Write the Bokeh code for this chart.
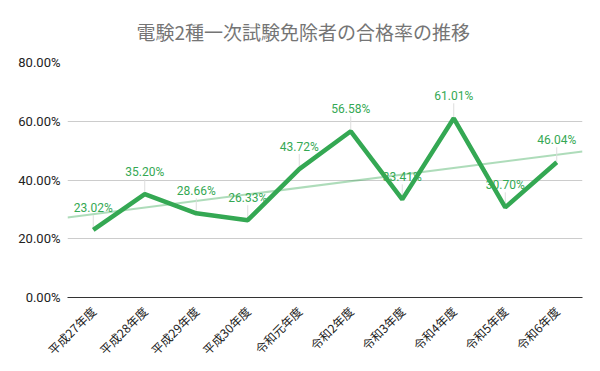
import numpy as np
from bokeh.plotting import figure
from bokeh.core.properties import value
from bokeh.models import FixedTicker, PrintfTickFormatter, ColumnDataSource, LabelSet, Range1d
from bokeh.embed import file_html
from bokeh.resources import INLINE

title_text = "電験2種一次試験免除者の合格率の推移"
categories = ["平成27年度", "平成28年度", "平成29年度", "平成30年度", "令和元年度",
              "令和2年度", "令和3年度", "令和4年度", "令和5年度", "令和6年度"]
rates = [23.02, 35.20, 28.66, 26.33, 43.72, 56.58, 33.41, 61.01, 30.70, 46.04]
y_ticks = [0, 20, 40, 60, 80]

GREEN = "#34a853"

xs = list(range(len(categories)))
p = figure(frame_width=515, frame_height=235, output_backend="svg", toolbar_location=None,
           x_range=Range1d(-0.5, len(categories) - 0.5), y_range=Range1d(0, 80),
           min_border_left=67, min_border_right=10, min_border_top=62, min_border_bottom=66)
p.outline_line_color = None

p.title.text = title_text
p.title.align = "left"
p.title.vertical_align = "top"
p.title.offset = 69
p.title.standoff = 31
p.title.text_font = "Noto Sans CJK JP"
p.title.text_font_size = "19px"
p.title.text_font_style = "normal"
p.title.text_color = "#757575"

# trendline (least squares over data)
k, b = np.polyfit(xs, rates, 1)
tx = [-0.5, len(categories) - 0.5]
p.line(tx, [k * t + b for t in tx], line_color=GREEN, line_alpha=0.4, line_width=2)

# leader lines
lead = 5.1
p.segment(xs, rates, xs, [r + lead for r in rates], line_color="#dddddd", line_width=1)

p.line(xs, rates, line_color=GREEN, line_width=4.5)

src = ColumnDataSource(dict(x=xs, y=[r + lead for r in rates],
                            t=["%.2f%%" % r for r in rates]))
p.add_layout(LabelSet(x="x", y="y", text="t", source=src, text_align="center",
                      text_baseline="bottom", text_font=value("Roboto"),
                      text_font_size=value("12px"), text_color=GREEN))

p.xaxis.ticker = FixedTicker(ticks=xs)
p.xaxis.major_label_overrides = {i: c for i, c in enumerate(categories)}
p.xaxis.major_label_orientation = np.pi / 4
p.xaxis.major_label_text_font = "Noto Sans CJK JP"
p.xaxis.major_label_text_font_size = "12px"
p.xaxis.major_label_text_color = "#222222"
p.xaxis.major_tick_line_color = None
p.xaxis.minor_tick_line_color = None
p.xaxis.axis_line_color = "#333333"
p.xaxis.axis_line_width = 1.2
p.xaxis.major_label_standoff = 5

p.yaxis.ticker = FixedTicker(ticks=y_ticks)
p.yaxis.formatter = PrintfTickFormatter(format="%.2f%%")
p.yaxis.major_label_text_font = "Roboto"
p.yaxis.major_label_text_font_size = "13px"
p.yaxis.major_label_text_color = "#222222"
p.yaxis.axis_line_color = None
p.yaxis.major_tick_line_color = None
p.yaxis.minor_tick_line_color = None
p.yaxis.major_tick_out = 0
p.yaxis.major_tick_in = 0
p.yaxis.major_label_standoff = 7

p.xgrid.grid_line_color = None
p.ygrid.grid_line_color = "#cccccc"
p.ygrid.ticker = FixedTicker(ticks=y_ticks)

open("out.html", "w").write(file_html(p, INLINE))
